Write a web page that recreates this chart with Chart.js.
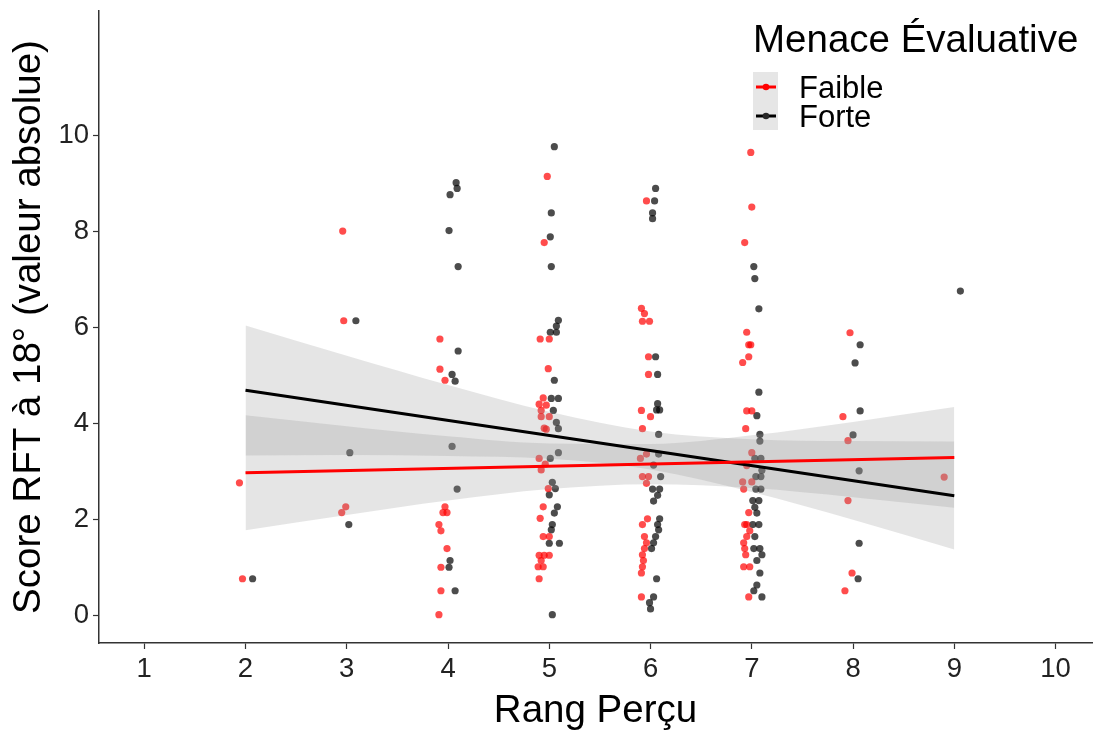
<!DOCTYPE html>
<html><head><meta charset="utf-8">
<script src="https://cdn.jsdelivr.net/npm/chart.js@4.4.1/dist/chart.umd.min.js"></script>
<style>html,body{margin:0;padding:0;background:#fff}canvas{display:block}</style>
</head><body>
<canvas id="c" width="1096" height="736"></canvas>
<script>
// ---- data ----
const xTicks = [1,2,3,4,5,6,7,8,9,10];
const yTicks = [0,2,4,6,8,10];
const groups = ["Faible","Forte"];
const legendTitle = "Menace Évaluative";
const xTitle = "Rang Perçu";
const yTitle = "Score RFT à 18° (valeur absolue)";

// jittered points (x, y)
const faibleX = [1.94,1.97, 2.96,2.97,2.99,2.95,
 3.92,3.92,3.97,3.97,3.95,3.99,3.91,3.93,3.99,3.93,3.93,3.91,
 4.98,4.95,4.91,5.00,4.99,4.94,4.90,4.97,4.92,4.92,5.00,4.95,4.97,4.90,4.96,4.92,4.99,4.94,4.91,4.94,5.00,4.90,4.95,5.00,4.92,4.89,4.94,4.90,
 5.96,5.91,5.94,5.92,5.99,5.98,5.98,5.91,6.00,5.92,5.96,5.90,5.92,5.98,5.96,5.97,5.92,5.94,5.96,5.94,5.92,5.93,5.92,5.91,5.91,
 6.99,7.00,6.93,6.95,6.97,6.99,6.97,6.91,6.95,7.00,6.94,7.00,6.95,6.91,7.00,6.92,6.97,6.95,6.93,6.98,6.95,6.92,6.93,6.94,6.92,6.98,6.97,
 7.97,7.90,7.95,7.95,7.99,7.92, 8.90];
const faibleY = [2.76,0.76, 8.01,6.14,2.26,2.14,
 5.76,5.13,4.90,2.26,2.14,2.14,1.89,1.76,1.39,1.00,0.51,0.01,
 9.15,7.77,5.76,5.76,5.14,4.53,4.40,4.38,4.27,4.14,4.14,3.90,3.88,3.27,3.15,3.03,2.64,2.26,2.02,1.64,1.64,1.25,1.25,1.25,1.14,1.01,1.01,0.76,
 8.64,6.40,6.29,6.13,6.13,5.39,5.02,4.27,4.14,3.89,3.36,3.27,2.89,2.89,2.75,2.01,1.89,1.64,1.51,1.39,1.26,1.14,1.01,0.88,0.38,
 9.65,8.51,7.77,5.90,5.64,5.64,5.39,5.27,4.26,4.26,3.89,3.39,3.12,2.78,2.78,2.63,2.14,1.89,1.89,1.76,1.64,1.51,1.39,1.26,1.01,1.01,0.38,
 5.89,4.14,3.64,2.39,0.88,0.51, 2.88];
const forteX = [2.07, 3.09,3.03,3.02,
 4.08,4.09,4.02,4.01,4.10,4.10,4.04,4.07,4.04,4.09,4.02,4.01,4.07,
 5.05,5.02,5.01,5.02,5.09,5.07,5.07,5.01,5.05,5.02,5.09,5.04,5.07,5.09,5.09,5.01,5.03,5.06,5.00,5.08,5.05,5.03,5.02,5.00,5.10,5.03,
 6.05,6.04,6.02,6.02,6.05,6.07,6.07,6.06,6.09,6.08,6.08,6.03,6.10,6.02,6.09,6.07,6.03,6.09,6.07,6.08,6.05,6.03,6.01,6.06,6.03,5.99,6.00,
 7.02,7.03,7.07,7.07,7.05,7.08,7.08,7.09,7.03,7.10,7.04,7.09,7.04,7.09,7.01,7.07,7.03,7.05,7.01,7.07,7.03,7.02,7.08,7.10,7.05,7.08,7.05,7.02,7.10,
 8.07,8.02,8.07,8.00,8.06,8.06,8.05, 9.06];
const forteY = [0.76, 6.14,3.39,1.89,
 9.02,8.90,8.77,8.02,7.27,5.51,5.02,4.88,3.52,2.63,1.14,1.00,0.51,
 9.77,8.39,7.89,7.27,6.15,6.03,5.90,5.90,4.90,4.52,4.52,4.27,4.02,3.89,3.39,3.27,2.77,2.64,2.51,2.26,2.13,1.89,1.78,1.50,1.50,0.01,
 8.90,8.64,8.39,8.27,5.39,5.02,4.41,4.28,4.28,3.77,3.36,3.13,2.89,2.63,2.63,2.50,2.38,2.01,1.89,1.78,1.64,1.51,1.39,0.76,0.38,0.26,0.13,
 7.27,7.02,6.39,4.65,4.16,3.77,3.63,3.27,3.27,3.02,2.89,2.89,2.63,2.63,2.39,2.39,2.25,2.13,1.89,1.89,1.64,1.39,1.39,1.26,1.14,0.88,0.63,0.51,0.38,
 5.64,5.26,4.26,3.76,3.01,1.50,0.76, 6.76];

// fitted lines and confidence bands (read at x = 2..9)
const fitX = [2, 9];
const fitFaible = [2.97, 3.29];
const fitForte = [4.69, 2.49];
const bandX = [2,3,4,5,6,7,8,9];
const faibleLow = [1.77,2.09,2.39,2.63,2.73,2.65,2.46,2.24];
const faibleHigh = [4.17,3.94,3.73,3.58,3.57,3.75,4.03,4.34];
const forteLow = [3.33,3.34,3.32,3.26,3.04,2.57,1.99,1.37];
const forteHigh = [6.04,5.41,4.80,4.24,3.83,3.67,3.63,3.62];

// ---- styles ----
const RED = 'rgba(255,0,0,0.7)', BLK = 'rgba(0,0,0,0.7)';
const BAND = 'rgba(153,153,153,0.25)';
const FONT = '"Liberation Sans", Arial, Helvetica, sans-serif';
const pts = (xs, ys) => xs.map((x, i) => ({x, y: ys[i]}));

const bandDs = (xs, ys, fillTarget) => ({
  type: 'line', data: pts(xs, ys), borderWidth: 0, borderColor: 'rgba(0,0,0,0)',
  pointRadius: 0, backgroundColor: BAND, fill: fillTarget, order: 1,
  cubicInterpolationMode: 'monotone'
});

const legendPlugin = {
  id: 'ggLegend',
  afterDraw(chart) {
    const ctx = chart.ctx;
    ctx.save();
    ctx.fillStyle = '#000';
    ctx.textBaseline = 'alphabetic';
    ctx.font = '38.5px ' + FONT;
    ctx.fillText(legendTitle, 753, 52);
    ctx.fillStyle = 'rgb(230,230,230)';
    ctx.fillRect(753, 72, 25, 58);
    const cols = ['rgb(255,0,0)', 'rgb(0,0,0)'];
    const ptc = ['rgb(255,0,0)', 'rgb(40,40,40)'];
    groups.forEach((g, i) => {
      const cy = 87 + i * 29;
      ctx.strokeStyle = cols[i]; ctx.lineWidth = 3;
      ctx.beginPath(); ctx.moveTo(756, cy); ctx.lineTo(776, cy); ctx.stroke();
      ctx.fillStyle = ptc[i];
      ctx.beginPath(); ctx.arc(766, cy, 3.3, 0, Math.PI * 2); ctx.fill();
      ctx.fillStyle = '#000';
      ctx.font = '31px ' + FONT;
      ctx.fillText(g, 799, cy + 11);
    });
    ctx.restore();
  }
};

new Chart(document.getElementById('c'), {
  type: 'scatter',
  data: {
    datasets: [
      { type: 'line', data: pts(fitX, fitFaible), borderColor: 'rgb(255,0,0)', borderWidth: 3, pointRadius: 0, fill: false, order: 0 },
      { type: 'line', data: pts(fitX, fitForte), borderColor: 'rgb(0,0,0)', borderWidth: 3, pointRadius: 0, fill: false, order: 0 },
      bandDs(bandX, faibleLow, false),
      bandDs(bandX, faibleHigh, 2),
      bandDs(bandX, forteLow, false),
      bandDs(bandX, forteHigh, 4),
      { data: pts(faibleX, faibleY), backgroundColor: RED, pointRadius: 3.6, pointBorderWidth: 0, borderWidth: 0, order: 2 },
      { data: pts(forteX, forteY), backgroundColor: BLK, pointRadius: 3.6, pointBorderWidth: 0, borderWidth: 0, order: 2 }
    ]
  },
  options: {
    responsive: false, animation: false, devicePixelRatio: 1,
    layout: { padding: { top: 11, right: 3, left: 0, bottom: 0 } },
    plugins: { legend: { display: false }, tooltip: { enabled: false } },
    scales: {
      x: {
        type: 'linear', min: 0.553, max: 10.36,
        afterBuildTicks: s => { s.ticks = xTicks.map(v => ({value: v})); },
        afterFit: s => { s.height = 93; s.paddingLeft = 0; s.paddingRight = 0; },
        grid: { drawOnChartArea: false, drawTicks: true, tickLength: 6, color: '#333', tickWidth: 1.2 },
        border: { display: true, color: '#333', width: 1.5 },
        ticks: { color: '#222', font: { family: FONT, size: 27.5 }, padding: 4, autoSkip: false, maxRotation: 0 },
        title: { display: true, text: xTitle, color: '#000', font: { family: FONT, size: 38.5 }, padding: { top: 4, bottom: 2 } }
      },
      y: {
        type: 'linear', min: -0.58, max: 12.6,
        afterBuildTicks: s => { s.ticks = yTicks.map(v => ({value: v})); },
        afterFit: s => { s.width = 99; s.paddingTop = 0; s.paddingBottom = 0; },
        grid: { drawOnChartArea: false, drawTicks: true, tickLength: 6, color: '#333', tickWidth: 1.2 },
        border: { display: true, color: '#333', width: 1.5 },
        ticks: { color: '#222', font: { family: FONT, size: 27.5 }, padding: 4, autoSkip: false },
        title: { display: true, text: yTitle, color: '#000', font: { family: FONT, size: 38.5 }, padding: { top: 6, bottom: 4 } }
      }
    }
  },
  plugins: [legendPlugin]
});
</script>
</body></html>
